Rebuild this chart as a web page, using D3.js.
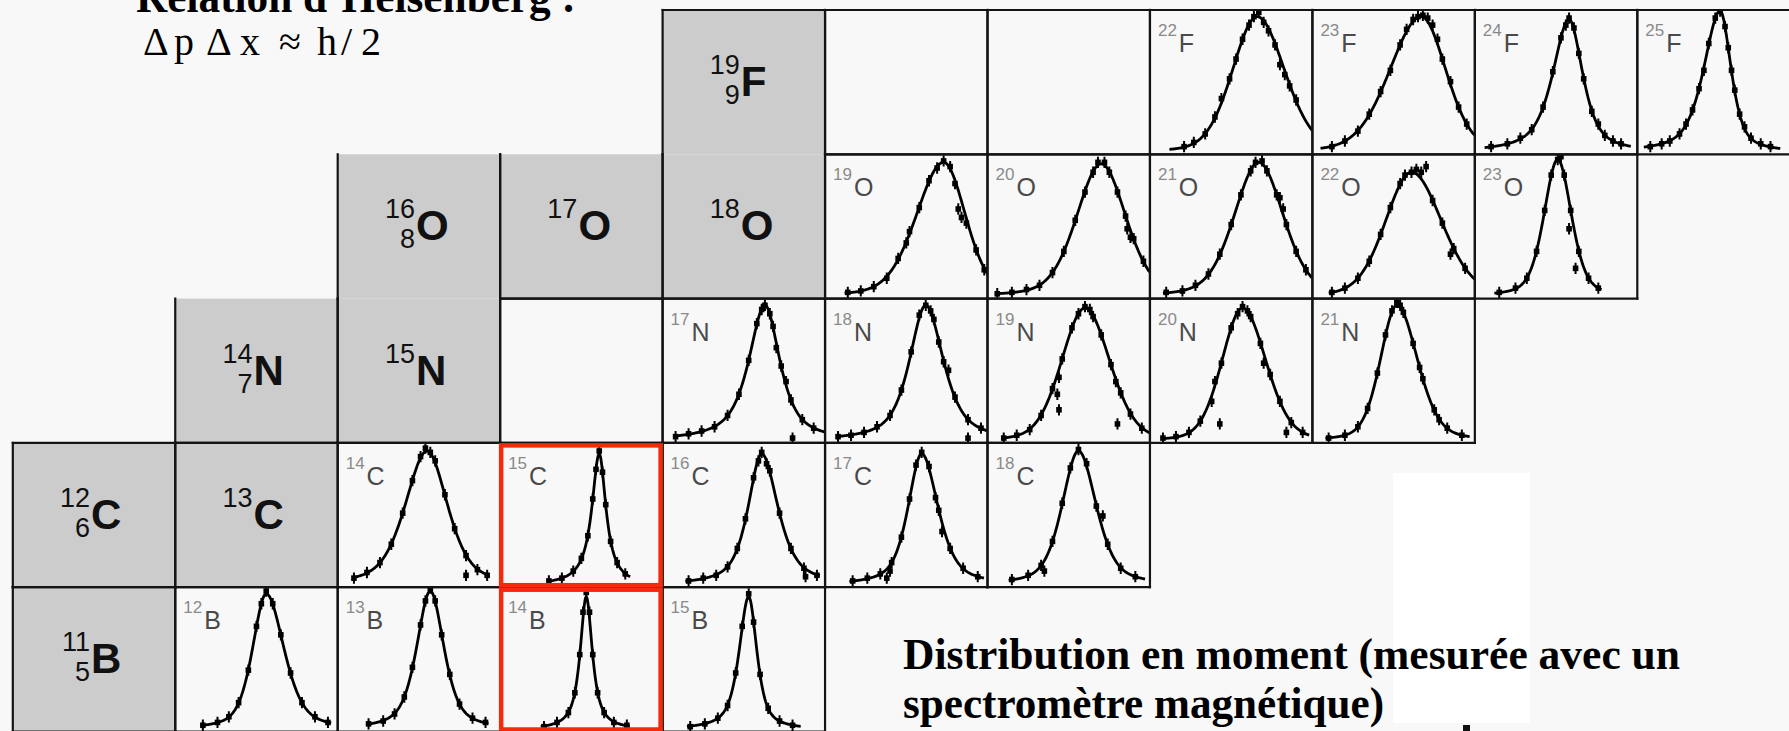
<!DOCTYPE html>
<html>
<head>
<meta charset="utf-8">
<script src="https://cdn.jsdelivr.net/npm/d3@7"></script>
<style>
  html, body { margin: 0; padding: 0; background: #f8f8f8; overflow: hidden; }
  svg { display: block; }
</style>
</head>
<body>
<svg id="chart" width="1789" height="731"></svg>
<script>
// ---- Chart of light nuclides: rows by proton number, columns by neutron number ----
const protonNumber = { B: 5, C: 6, N: 7, O: 8, F: 9 };

// Stable isotopes (grey boxes): [mass, symbol, show proton number]
const stableIsotopes = [
  [19, "F", true], [18, "O", false], [17, "O", false], [16, "O", true],
  [15, "N", false], [14, "N", true], [13, "C", false], [12, "C", true], [11, "B", true]
];

// Isotopes without a measured distribution in this table
const unmeasuredIsotopes = [[20, "F"], [21, "F"], [16, "N"]];

// Halo nuclei framed in red
const haloIsotopes = ["15C", "14B"];

// Fitted momentum distributions, momentum and height normalised to the panel:
// [isotope, centre, HWHM low side, HWHM high side, Lorentzian fraction, peak, p min, p max]
const fitsF = [
  ["22F", 0.66, 0.18, 0.20, 0.2, 0.96, 0.12, 1.0],
  ["23F", 0.67, 0.23, 0.18, 0.2, 0.96, 0.05, 1.0],
  ["24F", 0.58, 0.12, 0.10, 0.7, 0.94, 0.06, 0.96],
  ["25F", 0.51, 0.12, 0.08, 0.6, 1.00, 0.04, 0.88]
];
const fitsO = [
  ["19O", 0.73, 0.20, 0.16, 0.25, 0.95, 0.12, 1.0],
  ["20O", 0.70, 0.18, 0.18, 0.3, 0.94, 0.05, 1.0],
  ["21O", 0.67, 0.18, 0.18, 0.3, 0.95, 0.08, 1.0],
  ["22O", 0.61, 0.19, 0.22, 0.2, 0.88, 0.10, 1.0],
  ["23O", 0.51, 0.10, 0.10, 0.4, 0.97, 0.12, 0.78]
];
const fitsN = [
  ["17N", 0.63, 0.12, 0.11, 0.8, 0.96, 0.07, 1.0],
  ["18N", 0.62, 0.12, 0.13, 0.7, 0.96, 0.07, 1.0],
  ["19N", 0.60, 0.17, 0.18, 0.2, 0.94, 0.10, 1.0],
  ["20N", 0.57, 0.15, 0.17, 0.2, 0.94, 0.08, 0.98],
  ["21N", 0.52, 0.12, 0.15, 0.3, 0.96, 0.08, 0.97]
];
const fitsC = [
  ["14C", 0.55, 0.16, 0.15, 0.5, 0.95, 0.10, 0.93],
  ["15C", 0.61, 0.055, 0.05, 1.0, 0.93, 0.30, 0.80],
  ["16C", 0.61, 0.10, 0.12, 0.7, 0.93, 0.14, 0.97],
  ["17C", 0.595, 0.10, 0.12, 0.6, 0.93, 0.15, 0.98],
  ["18C", 0.56, 0.12, 0.13, 0.5, 0.95, 0.13, 0.97]
];
const fitsB = [
  ["12B", 0.56, 0.10, 0.13, 0.5, 0.96, 0.16, 0.96],
  ["13B", 0.57, 0.10, 0.10, 0.6, 0.98, 0.18, 0.93],
  ["14B", 0.53, 0.045, 0.045, 0.9, 0.94, 0.25, 0.80],
  ["15B", 0.53, 0.07, 0.06, 0.7, 0.94, 0.15, 0.85]
];

// Measured points [momentum, counts], same normalisation
const pointsF = {
  "22F": [[.21,.04],[.27,.07],[.34,.13],[.40,.25],[.44,.38],[.49,.52],[.53,.66],[.57,.80],[.61,.90],[.64,.96],[.67,.99],[.70,.92],[.73,.86],[.77,.76],[.80,.62],[.83,.55],[.86,.47],[.90,.37]],
  "23F": [[.12,.04],[.20,.08],[.28,.15],[.35,.27],[.42,.43],[.48,.58],[.54,.76],[.58,.87],[.62,.94],[.65,.96],[.68,.97],[.71,.95],[.74,.90],[.77,.80],[.80,.66],[.85,.50],[.90,.32],[.95,.20]],
  "24F": [[.10,.04],[.20,.06],[.28,.10],[.35,.16],[.42,.32],[.48,.57],[.53,.81],[.56,.90],[.58,.95],[.61,.88],[.64,.70],[.67,.52],[.72,.29],[.76,.20],[.80,.12],[.85,.08],[.90,.06]],
  "25F": [[.08,.04],[.15,.06],[.20,.08],[.26,.13],[.30,.20],[.34,.30],[.38,.45],[.41,.58],[.44,.77],[.48,.95],[.51,1.0],[.54,.89],[.56,.74],[.58,.58],[.60,.44],[.63,.27],[.66,.18],[.70,.10],[.76,.06],[.82,.04]]
};
const pointsO = {
  "19O": [[.14,.03],[.22,.04],[.30,.07],[.38,.13],[.45,.27],[.50,.38],[.52,.46],[.58,.63],[.64,.82],[.69,.91],[.73,.96],[.77,.92],[.80,.80],[.82,.62],[.84,.56],[.87,.52],[.93,.33],[.98,.19]],
  "20O": [[.06,.02],[.15,.03],[.24,.05],[.32,.08],[.40,.17],[.47,.32],[.54,.54],[.60,.74],[.65,.88],[.68,.95],[.72,.95],[.75,.88],[.80,.74],[.85,.57],[.86,.48],[.88,.42],[.90,.41],[.96,.25]],
  "21O": [[.10,.03],[.20,.04],[.28,.08],[.36,.16],[.43,.30],[.50,.51],[.56,.72],[.62,.89],[.65,.95],[.69,.96],[.72,.89],[.78,.72],[.80,.70],[.82,.62],[.84,.51],[.90,.32],[.96,.19]],
  "22O": [[.12,.03],[.20,.06],[.28,.13],[.35,.25],[.42,.44],[.48,.63],[.54,.80],[.57,.86],[.61,.88],[.64,.90],[.67,.88],[.70,.92],[.74,.68],[.80,.52],[.85,.30],[.87,.34],[.94,.20]],
  "23O": [[.15,.03],[.25,.06],[.32,.13],[.38,.32],[.43,.61],[.47,.86],[.51,.97],[.53,.99],[.55,.86],[.59,.61],[.58,.48],[.64,.32],[.62,.20],[.70,.13],[.76,.06]]
};
const pointsN = {
  "17N": [[.08,.03],[.16,.05],[.24,.07],[.32,.10],[.40,.18],[.47,.33],[.53,.57],[.58,.83],[.61,.93],[.63,.96],[.66,.90],[.68,.81],[.70,.66],[.73,.53],[.76,.42],[.79,.29],[.80,.02],[.86,.15],[.93,.09]],
  "18N": [[.08,.03],[.16,.04],[.24,.06],[.32,.10],[.40,.18],[.47,.36],[.53,.63],[.58,.89],[.62,.96],[.65,.92],[.67,.86],[.70,.70],[.73,.56],[.76,.50],[.80,.31],[.88,.15],[.88,.02],[.96,.09]],
  "19N": [[.10,.02],[.18,.04],[.26,.08],[.33,.18],[.40,.37],[.43,.33],[.44,.45],[.44,.22],[.46,.58],[.52,.80],[.56,.90],[.60,.95],[.63,.93],[.65,.88],[.70,.75],[.76,.54],[.79,.42],[.80,.12],[.82,.34],[.88,.19],[.95,.09]],
  "20N": [[.08,.02],[.16,.03],[.24,.06],[.31,.14],[.38,.28],[.40,.42],[.43,.12],[.44,.55],[.50,.80],[.54,.90],[.57,.95],[.60,.92],[.62,.88],[.68,.69],[.70,.55],[.74,.47],[.80,.28],[.84,.06],[.87,.13],[.94,.06]],
  "21N": [[.10,.02],[.20,.04],[.28,.10],[.34,.23],[.40,.48],[.45,.75],[.49,.92],[.52,.98],[.54,.96],[.56,.91],[.62,.69],[.66,.52],[.68,.44],[.75,.22],[.78,.15],[.83,.09],[.92,.04]]
};
const pointsC = {
  "14C": [[.10,.05],[.18,.09],[.26,.16],[.33,.29],[.40,.51],[.46,.74],[.51,.91],[.54,.97],[.57,.94],[.60,.88],[.66,.64],[.72,.40],[.79,.21],[.79,.07],[.86,.11],[.92,.07]],
  "15C": [[.30,.03],[.38,.05],[.45,.10],[.50,.19],[.54,.35],[.57,.61],[.59,.82],[.61,.95],[.63,.80],[.65,.57],[.68,.31],[.72,.16],[.77,.08]],
  "16C": [[.16,.03],[.25,.05],[.33,.07],[.40,.13],[.46,.26],[.51,.47],[.56,.76],[.59,.88],[.61,.94],[.64,.86],[.66,.81],[.72,.51],[.79,.26],[.87,.12],[.88,.06],[.95,.07]],
  "17C": [[.17,.03],[.26,.05],[.34,.08],[.38,.05],[.40,.10],[.41,.16],[.47,.34],[.52,.61],[.56,.85],[.595,.94],[.64,.84],[.68,.62],[.70,.53],[.72,.38],[.77,.26],[.85,.12],[.94,.06]],
  "18C": [[.15,.04],[.25,.07],[.33,.14],[.35,.10],[.40,.31],[.46,.58],[.51,.83],[.56,.96],[.61,.86],[.67,.56],[.71,.49],[.74,.29],[.82,.12],[.91,.06]]
};
const pointsB = {
  "12B": [[.17,.03],[.26,.05],[.33,.09],[.39,.19],[.45,.42],[.50,.73],[.53,.89],[.56,.98],[.60,.89],[.65,.67],[.71,.40],[.78,.19],[.86,.09],[.94,.05]],
  "13B": [[.19,.04],[.28,.06],[.35,.11],[.41,.23],[.46,.44],[.51,.74],[.54,.91],[.57,1.0],[.60,.91],[.64,.67],[.69,.39],[.75,.18],[.83,.08],[.91,.05]],
  "14B": [[.27,.02],[.35,.05],[.42,.12],[.46,.26],[.49,.53],[.51,.83],[.53,.97],[.55,.83],[.57,.53],[.60,.26],[.64,.12],[.70,.05],[.78,.03]],
  "15B": [[.17,.02],[.26,.04],[.34,.08],[.40,.17],[.45,.40],[.49,.73],[.53,.96],[.56,.76],[.60,.39],[.65,.15],[.72,.06],[.80,.03]]
};

// Slide text
const titleText = "Relation d’Heisenberg :";
const relationGlyphs = ["Δ", "p", "Δ", "x", "≈", "h", "/", "2"];
const captionLines = ["Distribution en moment (mesurée avec un", "spectromètre magnétique)"];

// ---------------------------------------------------------------------------
const W = 1789, H = 731;
const SANS = "'Liberation Sans', Arial, Helvetica, sans-serif";
const SERIF = "'Liberation Serif', 'Times New Roman', serif";
const LINE = "#141414";

const svg = d3.select("#chart");
const defs = svg.append("defs");

// neutron number -> x, proton number -> y
const xN = d3.scaleLinear().domain([6, 17]).range([12.8, 12.8 + 11 * 162.45]);
const yZ = d3.scaleLinear().domain([10, 5]).range([10, 731.5]);

function parseIso(name) {
  const m = name.match(/^(\d+)([A-Z][a-z]?)$/);
  return [+m[1], m[2]];
}
function cellBox(mass, sym) {
  const Z = protonNumber[sym], N = mass - Z;
  return { x0: xN(N), x1: xN(N + 1), y0: yZ(Z + 1), y1: yZ(Z) };
}

svg.append("rect").attr("width", W).attr("height", H).attr("fill", "#f8f8f8");

// white panel behind the caption and the stray tick below it
svg.append("rect").attr("x", 1393).attr("y", 473).attr("width", 137).attr("height", 250).attr("fill", "#ffffff");
svg.append("rect").attr("x", 1463).attr("y", 725).attr("width", 7).attr("height", 8).attr("fill", "#111");

// ---- grey stable cells ----
const gStable = svg.append("g");
stableIsotopes.forEach(([mass, sym]) => {
  const b = cellBox(mass, sym);
  gStable.append("rect")
    .attr("x", b.x0).attr("y", b.y0)
    .attr("width", b.x1 - b.x0).attr("height", b.y1 - b.y0)
    .attr("fill", "#cccccc");
});

// ---- measured panels ----
const allFits = [...fitsF, ...fitsO, ...fitsN, ...fitsC, ...fitsB];
const allPoints = Object.assign({}, pointsF, pointsO, pointsN, pointsC, pointsB);

function fitValue(f, p) {
  const d = p - f.centre;
  const t = d / (d < 0 ? f.hwLow : f.hwHigh);
  const g = Math.exp(-Math.LN2 * t * t);
  const l = 1 / (1 + t * t);
  return f.peak * ((1 - f.mix) * g + f.mix * l);
}

const gPlots = svg.append("g");
allFits.forEach(row => {
  const [name, centre, hwLow, hwHigh, mix, peak, pMin, pMax] = row;
  const f = { centre, hwLow, hwHigh, mix, peak };
  const [mass, sym] = parseIso(name);
  const b = cellBox(mass, sym);
  const px = d3.scaleLinear().domain([0, 1]).range([b.x0, b.x1]);
  const py = d3.scaleLinear().domain([0, 1]).range([b.y1 - 2, b.y0 + 1]);

  const clipId = "clip-" + name;
  defs.append("clipPath").attr("id", clipId)
    .append("rect").attr("x", b.x0).attr("y", b.y0)
    .attr("width", b.x1 - b.x0).attr("height", b.y1 - b.y0);

  const g = gPlots.append("g").attr("clip-path", `url(#${clipId})`);

  const samples = d3.range(pMin, pMax + 1e-9, 0.004);
  const line = d3.line().x(p => px(p)).y(p => py(fitValue(f, p)));
  g.append("path").datum(samples)
    .attr("d", line)
    .attr("fill", "none").attr("stroke", "#000").attr("stroke-width", 2.8)
    .attr("stroke-linejoin", "round");

  const pts = allPoints[name] || [];
  g.selectAll("line.err").data(pts).join("line")
    .attr("class", "err")
    .attr("x1", d => px(d[0])).attr("x2", d => px(d[0]))
    .attr("y1", d => py(d[1] + 0.04)).attr("y2", d => py(d[1] - 0.04))
    .attr("stroke", "#000").attr("stroke-width", 2);
  g.selectAll("rect.pt").data(pts).join("rect")
    .attr("class", "pt")
    .attr("x", d => px(d[0]) - 2.8).attr("y", d => py(d[1]) - 2.8)
    .attr("width", 5.6).attr("height", 5.6)
    .attr("fill", "#000");

  // isotope label
  const t = g.append("text")
    .attr("x", b.x0 + 8).attr("y", b.y0 + 42)
    .attr("font-family", SANS);
  t.append("tspan").attr("font-size", 17).attr("fill", "#8a8a8a").attr("dy", -16).text(mass);
  t.append("tspan").attr("font-size", 25).attr("fill", "#4a4a4a").attr("dx", 2).attr("dy", 16).text(sym);
});

// ---- cell borders ----
const noTopEdge = new Set(["14N", "16O", "17O", "18O", "15N"]);
const noBottomEdge = new Set(["19F", "16O"]);
const borderCells = [
  ...stableIsotopes.map(d => [d[0], d[1]]),
  ...unmeasuredIsotopes,
  ...allFits.map(d => parseIso(d[0]))
];
const gBorders = svg.append("g")
  .attr("stroke", LINE).attr("stroke-width", 2.2).attr("fill", "none")
  .attr("stroke-linecap", "square");
borderCells.forEach(([mass, sym]) => {
  const b = cellBox(mass, sym);
  const key = mass + sym;
  const segs = [
    [b.x0, b.y0, b.x0, b.y1],
    [b.x1, b.y0, b.x1, b.y1]
  ];
  if (!noTopEdge.has(key)) segs.push([b.x0, b.y0, b.x1, b.y0]);
  if (!noBottomEdge.has(key)) segs.push([b.x0, b.y1, b.x1, b.y1]);
  segs.forEach(s => gBorders.append("line")
    .attr("x1", s[0]).attr("y1", s[1]).attr("x2", s[2]).attr("y2", s[3]));
});

// ---- labels of stable isotopes ----
const gStableLabels = svg.append("g").attr("font-family", SANS).attr("fill", "#111");
stableIsotopes.forEach(([mass, sym, showZ]) => {
  const b = cellBox(mass, sym);
  const lx = (b.x0 + b.x1) / 2 - 3;
  const ly = (b.y0 + b.y1) / 2 + 14;
  gStableLabels.append("text")
    .attr("x", lx).attr("y", ly)
    .attr("font-size", 42).attr("font-weight", "bold").text(sym);
  gStableLabels.append("text")
    .attr("x", lx - 1).attr("y", ly - 22)
    .attr("text-anchor", "end").attr("font-size", 27).text(mass);
  if (showZ) {
    gStableLabels.append("text")
      .attr("x", lx - 1).attr("y", ly + 8)
      .attr("text-anchor", "end").attr("font-size", 27).text(protonNumber[sym]);
  }
});

// ---- halo frames ----
haloIsotopes.forEach(name => {
  const [mass, sym] = parseIso(name);
  const b = cellBox(mass, sym);
  svg.append("rect")
    .attr("x", b.x0 + 1).attr("y", b.y0 + 2.5)
    .attr("width", b.x1 - b.x0 - 3).attr("height", b.y1 - b.y0 - 4.5)
    .attr("fill", "none").attr("stroke", "#f42a0d").attr("stroke-width", 4.5);
});

// ---- slide text ----
svg.append("text")
  .attr("x", 136).attr("y", 12)
  .attr("font-family", SERIF).attr("font-weight", "bold").attr("font-size", 43.5)
  .attr("textLength", 440).attr("lengthAdjust", "spacingAndGlyphs")
  .attr("fill", "#000").text(titleText);

// uncertainty relation, glyphs set individually (loose math spacing)
const glyphX = [143, 174, 206, 240, 279, 317, 341, 361];
svg.append("text")
  .attr("x", glyphX.join(" ")).attr("y", 55)
  .attr("font-family", SERIF).attr("font-size", 40)
  .attr("fill", "#000").text(relationGlyphs.join(""));

const caption = svg.append("g")
  .attr("font-family", SERIF).attr("font-weight", "bold").attr("font-size", 43.5).attr("fill", "#000");
caption.append("text").attr("x", 903).attr("y", 669)
  .attr("textLength", 777).attr("lengthAdjust", "spacingAndGlyphs").text(captionLines[0]);
caption.append("text").attr("x", 903).attr("y", 718)
  .attr("textLength", 481).attr("lengthAdjust", "spacingAndGlyphs").text(captionLines[1]);
</script>
</body>
</html>
